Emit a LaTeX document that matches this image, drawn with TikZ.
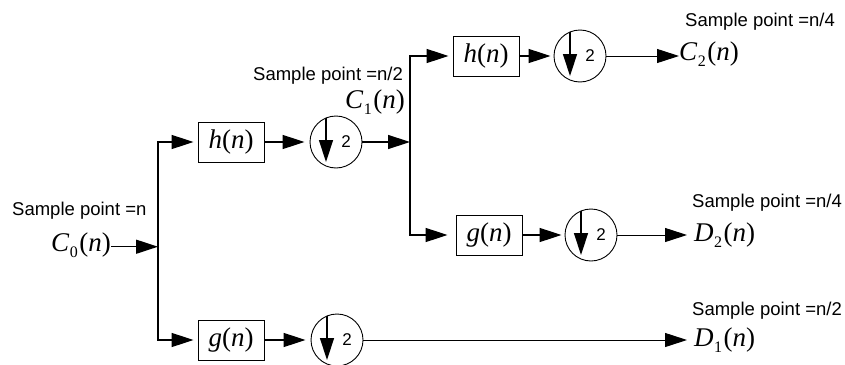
\documentclass[tikz,border=0pt]{standalone}
\usepackage{fontspec}
\setmainfont{Liberation Serif}
\setsansfont{Liberation Sans}
\usetikzlibrary{arrows.meta,calc}

% signal name such as C_0(n): italic letter, upright lowered index
\newcommand{\sgn}[2]{{\fontsize{27}{27}\selectfont\textit{#1}\kern0.5pt\raisebox{-6pt}{\fontsize{16}{16}\selectfont #2}\kern1.5pt(\textit{n})}}
% filter name such as h(n)
\newcommand{\flt}[1]{\textit{#1}(\textit{n})}

\begin{document}
\begin{tikzpicture}[x=1pt,y=-1pt,
  wire/.style={line width=1.4pt},
  arr/.style={wire,-{Triangle[length=22pt,width=14pt]}},
  outarr/.style={line width=1pt,-{Triangle[length=22pt,width=14pt]}},
  filt/.style={draw,line width=0.9pt,minimum width=66pt,minimum height=40pt,
    inner sep=0pt,font=\fontsize{27}{27}\selectfont},
  dsamp/.style={draw,circle,line width=0.9pt,minimum size=52pt,inner sep=0pt,
    path picture={
      \draw[arr] ([xshift=-10pt,yshift=26pt]path picture bounding box.center)
        -- ([xshift=-10pt,yshift=-20pt]path picture bounding box.center);
      \node[font=\sffamily\fontsize{17}{17}\selectfont,inner sep=0pt]
        at ([xshift=10pt]path picture bounding box.center) {2};
    }},
  note/.style={font=\sffamily\fontsize{18.5}{19}\selectfont,anchor=base west,inner sep=0pt},
  sig/.style={anchor=base west,inner sep=0pt}
]
\useasboundingbox (0,0) rectangle (845,364);
\fill[white] (0,0) rectangle (845,364);
\clip (0,0) rectangle (845,364);

% branch points of the two splitting buses
\coordinate (b1t) at (158,142);
\coordinate (b1b) at (158,340);
\coordinate (b2t) at (410,56);
\coordinate (b2b) at (410,235);

% first stage
\node[filt]  (hB) at (231,142) {\flt{h}};
\node[dsamp] (dB) at (336,142) {};
\node[filt]  (gD) at (231,340) {\flt{g}};
\node[dsamp] (dD) at (337,340) {};

% second stage
\node[filt]  (hA) at (486,56) {\flt{h}};
\node[dsamp] (dA) at (580,56) {};
\node[filt]  (gC) at (489,235) {\flt{g}};
\node[dsamp] (dC) at (591,235) {};

% signal labels
\node[sig] (c0) at (51,251) {\sgn{C}{0}};
\node[sig] (c1) at (345,108) {\sgn{C}{1}};
\node[sig] (c2) at (679,60) {\sgn{C}{2}};
\node[sig] (d2) at (694,241) {\sgn{D}{2}};
\node[sig] (d1) at (694,346) {\sgn{D}{1}};

% sampling notes
\node[note] (n0) at (12,215)  {Sample point =n};
\node[note] (n1) at (253,80)  {Sample point =n/2};
\node[note] (n2) at (685,27)  {Sample point =n/4};
\node[note] (n3) at (692,207) {Sample point =n/4};
\node[note] (n4) at (692,315) {Sample point =n/2};

% input into the first bus
\draw[arr] ([yshift=-2pt]c0.east) -- ([yshift=-2pt]c0.east -| b1t);

% first bus and its branches
\draw[arr,shorten >=4pt] (b1b) -- (b1t) -- (hB.west);
\draw[arr,shorten >=4pt] (b1t) -- (b1b) -- (gD.west);
\draw[arr,shorten >=5pt] (hB.east) -- (dB.west);
\draw[arr,shorten >=5pt] (gD.east) -- (dD.west);
\draw[arr] (dB.east) -- (dB.east -| b2t);

% second bus and its branches
\draw[arr,shorten >=4pt] (b2b) -- (b2t) -- (hA.west);
\draw[arr,shorten >=8pt] (b2t) -- (b2b) -- (gC.west);
\draw[arr,shorten >=3pt] (hA.east) -- (dA.west);
\draw[arr,shorten >=3pt] (gC.east) -- (dC.west);

% outputs
\draw[outarr] (dA.east) -- (c2.west |- dA.east);
\draw[outarr] (dC.east) -- ([xshift=-7pt]d2.west |- dC.east);
\draw[outarr] (dD.east) -- ([xshift=-7pt]d1.west |- dD.east);
\end{tikzpicture}
\end{document}
